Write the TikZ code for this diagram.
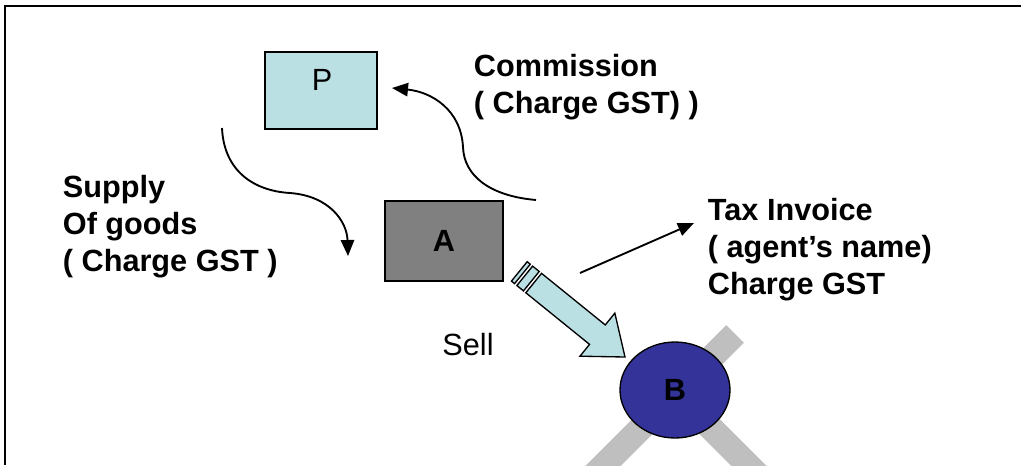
\documentclass[tikz,border=0pt]{standalone}
\usepackage{fontspec}
\setmainfont{Liberation Sans}
\usetikzlibrary{arrows.meta, shapes.geometric}

\begin{document}
\begin{tikzpicture}[x=0.75pt, y=-0.75pt, line width=1.4pt,
    flow/.style={-{Triangle[length=12pt, width=10pt]}},
    tag/.style={font=\fontsize{23}{27.75}\selectfont\bfseries, align=left, anchor=north west, inner sep=0pt},
    plain/.style={font=\fontsize{23}{26}\selectfont, inner sep=0pt},
    party/.style={draw, line width=1pt, inner sep=0pt}]
    \useasboundingbox (0,0) rectangle (1021,465);

    % draw outer lines
    \draw[line width=1.6pt] (1021,6) -- (5,6) -- (5,465);

    % draw grey cross behind B
    \begin{scope}
        \clip (0,0) rectangle (1021,465);
        \draw[line width=18.75pt, color=black!25] (735,334) -- (590,479);
        \draw[line width=18.75pt, color=black!25] (655,372) -- (765,482);
    \end{scope}

    % draw parties
    \node[party, fill={rgb,255:red,187;green,224;blue,227}, minimum width=84pt, minimum height=57.75pt] (P) at (321,90.5) {};
    \node[plain] (Ptext) at (322,80) {P};
    \node[party, fill={rgb,255:red,128;green,128;blue,128}, minimum width=88.5pt, minimum height=60pt, font=\fontsize{23}{26}\selectfont\bfseries] (A) at (444,241) {A};
    \node[party, ellipse, fill={rgb,255:red,51;green,51;blue,153}, minimum width=82.5pt, minimum height=72pt, font=\fontsize{23}{26}\selectfont\bfseries] (B) at (675,390) {B};

    % draw striped block arrow A to B
    \begin{scope}[shift={(625,357)}, rotate=-39, line width=1pt]
        \filldraw[fill={rgb,255:red,187;green,224;blue,227}] (0,0) -- (-35.5,27.7) -- (-35.5,12.5) -- (-117.5,12.5) -- (-117.5,-12.5) -- (-35.5,-12.5) -- (-35.5,-27.7) -- cycle;
        \filldraw[fill={rgb,255:red,187;green,224;blue,227}] (-120.5,-12.5) -- (-129,-12.5) -- (-129,12.5) -- (-120.5,12.5) -- cycle;
        \filldraw[fill={rgb,255:red,187;green,224;blue,227}] (-132,-12.5) -- (-136,-12.5) -- (-136,12.5) -- (-132,12.5) -- cycle;
    \end{scope}

    % draw curved arrows
    \coordinate (supfrom) at (222,128);
    \coordinate (supto) at (348,256);
    \coordinate (comfrom) at (536,200);
    \coordinate (comto) at (392,88);
    \coordinate (invfrom) at (580,273);
    \coordinate (invto) at (694,223);
    \draw[flow] (supfrom) .. controls (224,172) and (255,191) .. (290,193) .. controls (330,196) and (347,222) .. (supto);
    \draw[flow] (comfrom) .. controls (490,196) and (464,176) .. (463,147) .. controls (461,110) and (432,92) .. (comto);
    \draw[flow] (invfrom) -- (invto);

    % draw labels
    \node[tag] (commission) at (473,53) {Commission\\( Charge GST) )};
    \node[tag] (supply) at (62,174) {Supply\\Of goods\\( Charge GST )};
    \node[tag] (invoice) at (707,197) {Tax Invoice\\( agent’s name)\\Charge GST};
    \node[plain] (sell) at (468,345) {Sell};
\end{tikzpicture}
\end{document}
